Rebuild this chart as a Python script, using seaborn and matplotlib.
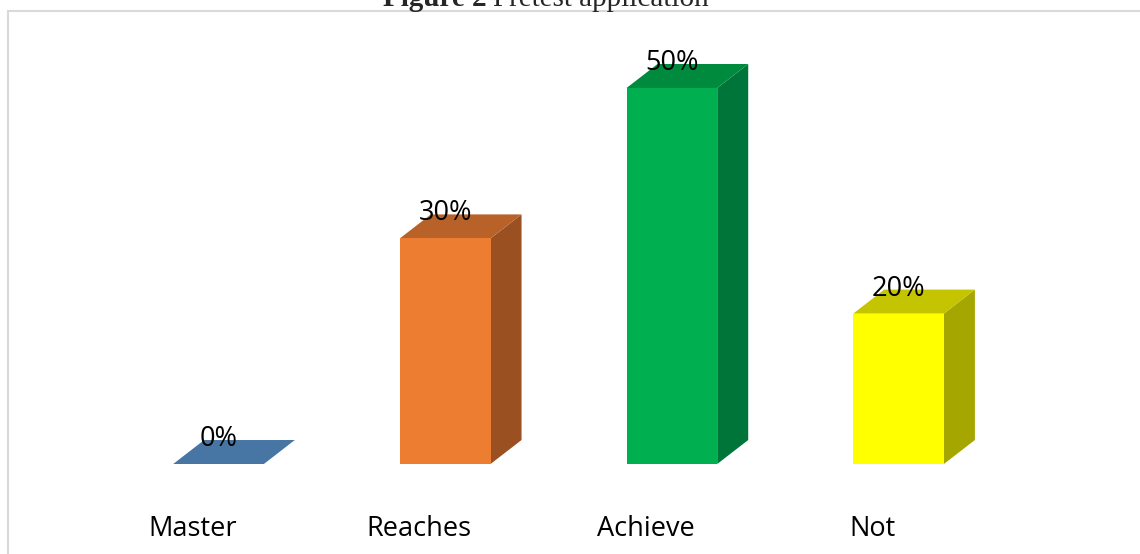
import numpy as np
import pandas as pd
import matplotlib.pyplot as plt
import seaborn as sns
from matplotlib.patches import Polygon, Rectangle
from matplotlib.transforms import ScaledTranslation

# chart data
categories = ['Master', 'Reaches', 'Achieve', 'Not']
values = [0, 30, 50, 20]

# face colours (front / side / top)
front_colors = ['#4A7AA8', '#ED7D31', '#00B050', '#FFFF00']
side_colors = ['#3A5F85', '#9A5020', '#00753A', '#A6A600']
top_colors = ['#4876A4', '#B86128', '#008A3E', '#C4C400']

sns.set_style('white')
plt.rcParams['font.family'] = ['Open Sans', 'DejaVu Sans']

df = pd.DataFrame({'level': categories, 'pct': values})

fig = plt.figure(figsize=(11.4, 5.54), dpi=100)
ax = fig.add_axes([0, 90 / 554, 1, 464 / 554])

sns.barplot(data=df, x='level', y='pct', hue='level', palette=front_colors,
            saturation=1, width=0.4, legend=False, ax=ax, zorder=3,
            linewidth=0, edgecolor='none')

ax.set_xlim(-0.964, 4.065)
ax.set_ylim(0, 61.7)

# 3D depth of the bars
dx, dy = 0.1367, 3.19
for i, p in enumerate(ax.patches):
    x0, w, h = p.get_x(), p.get_width(), p.get_height()
    side = Polygon([(x0 + w, 0), (x0 + w + dx, dy), (x0 + w + dx, h + dy), (x0 + w, h)],
                   closed=True, facecolor=side_colors[i], edgecolor='none', zorder=2, clip_on=False)
    top = Polygon([(x0, h), (x0 + w, h), (x0 + w + dx, h + dy), (x0 + dx, h + dy)],
                  closed=True, facecolor=top_colors[i], edgecolor='none', zorder=2, clip_on=False)
    ax.add_patch(side)
    ax.add_patch(top)
    ax.annotate(f'{values[i]}%', (x0 + w / 2, h), xytext=(0, 13), textcoords='offset points',
                ha='center', va='baseline', fontsize=19.5, color='black', zorder=5)

sns.despine(ax=ax, left=True, bottom=True, top=True, right=True)
ax.set_yticks([])
ax.set_xlabel('')
ax.set_ylabel('')
ax.tick_params(axis='x', length=0, pad=37, labelsize=19.5, labelcolor='black')
shift = ScaledTranslation(-0.26, 0, fig.dpi_scale_trans)
for lab in ax.get_xticklabels():
    lab.set_transform(lab.get_transform() + shift)
ax.patch.set_alpha(0)

# chart frame
fig.patches.append(Rectangle((8 / 1140, -0.05), 1.2, 1 - 11 / 554 + 0.05, transform=fig.transFigure,
                             facecolor='none', edgecolor='#D9D9D9', linewidth=1.5, zorder=0))

# caption cut off at the top, as in the source
fig.text(487 / 1140, 1 - 6 / 554, 'Figure 2', ha='right', va='baseline',
         family='Liberation Serif', fontweight='bold', fontsize=21)
fig.text(493 / 1140, 1 - 6 / 554, 'Pretest application', ha='left', va='baseline',
         family='Liberation Serif', fontsize=21)

fig.savefig('out.png', dpi=100)
